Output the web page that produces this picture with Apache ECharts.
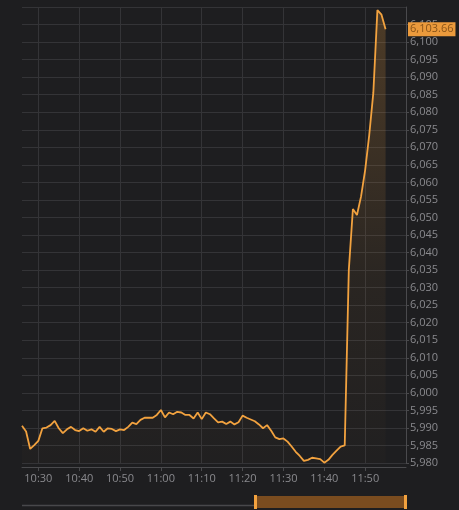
<!DOCTYPE html>
<html>
<head>
<meta charset="utf-8">
<script src="https://cdn.jsdelivr.net/npm/echarts@6/dist/echarts.min.js"></script>
<style>
html,body{margin:0;padding:0;background:#1e1e20;}
#chart{width:459px;height:510px;}
</style>
</head>
<body>
<div id="chart"></div>
<script>
const timeLabels = [
  '10:26','10:27','10:28','10:29','10:30','10:31','10:32','10:33','10:34','10:35','10:36','10:37','10:38','10:39',
  '10:40','10:41','10:42','10:43','10:44','10:45','10:46','10:47','10:48','10:49',
  '10:50','10:51','10:52','10:53','10:54','10:55','10:56','10:57','10:58','10:59',
  '11:00','11:01','11:02','11:03','11:04','11:05','11:06','11:07','11:08','11:09',
  '11:10','11:11','11:12','11:13','11:14','11:15','11:16','11:17','11:18','11:19',
  '11:20','11:21','11:22','11:23','11:24','11:25','11:26','11:27','11:28','11:29',
  '11:30','11:31','11:32','11:33','11:34','11:35','11:36','11:37','11:38','11:39',
  '11:40','11:41','11:42','11:43','11:44','11:45','11:46','11:47','11:48','11:49',
  '11:50','11:51','11:52','11:53','11:54','11:55','11:56','11:57','11:58','11:59',
  '12:00'
];
const tickLabels = ['10:30','10:40','10:50','11:00','11:10','11:20','11:30','11:40','11:50'];
const priceValues = [
  5990.6, 5989.0, 5984.0, 5985.1, 5986.3, 5989.9, 5990.1, 5990.8, 5992.0, 5989.9,
  5988.5, 5989.6, 5990.3, 5989.4, 5989.1, 5989.9, 5989.2, 5989.6, 5988.9, 5990.3,
  5988.9, 5989.9, 5989.7, 5989.1, 5989.6, 5989.4, 5990.3, 5991.5, 5991.1, 5992.3,
  5992.9, 5992.9, 5992.9, 5993.7, 5995.1, 5993.0, 5994.4, 5993.9, 5994.6, 5994.4,
  5993.7, 5993.7, 5992.7, 5994.4, 5992.5, 5994.4, 5993.9, 5992.7, 5991.6, 5991.8,
  5991.1, 5991.8, 5991.0, 5991.6, 5993.5, 5992.9, 5992.4, 5991.9, 5991.0, 5989.9,
  5990.8, 5989.2, 5987.3, 5986.8, 5987.0, 5986.1, 5984.7, 5983.2, 5982.0, 5980.6,
  5980.9, 5981.5, 5981.3, 5981.1, 5980.1, 5980.9, 5982.3, 5983.5, 5984.7, 5985.0,
  6035.0, 6052.4, 6050.7, 6056.0, 6063.5, 6073.5, 6085.5, 6109.1, 6107.8, 6103.66
];
const lastPrice = 6103.66;
const yMin = 5980, yMax = 6110, yStep = 5;

const ORANGE = '#f2a23f';
const GRID_C = '#343437';
const AXIS_C = '#4a4a4d';
const TEXT_C = '#8a8a8e';
const FONT = 'Open Sans';

const chart = echarts.init(document.getElementById('chart'), null, {renderer: 'canvas'});
chart.setOption({
  backgroundColor: '#1e1e20',
  animation: false,
  grid: {left: 22, right: 53, top: 7, bottom: 47, containLabel: false},
  xAxis: {
    type: 'category',
    data: timeLabels,
    boundaryGap: false,
    offset: 4,
    axisLine: {show: true, lineStyle: {color: AXIS_C, width: 1}},
    axisTick: {show: true, length: 4, lineStyle: {color: AXIS_C},
      interval: (i, v) => tickLabels.indexOf(v) >= 0},
    axisLabel: {color: TEXT_C, fontSize: 11, fontFamily: FONT, margin: 6,
      interval: (i, v) => tickLabels.indexOf(v) >= 0},
    splitLine: {show: true, lineStyle: {color: GRID_C, width: 1},
      interval: (i, v) => tickLabels.indexOf(v) >= 0}
  },
  yAxis: {
    type: 'value',
    position: 'right',
    min: yMin, max: yMax, interval: yStep,
    axisLine: {show: true, lineStyle: {color: AXIS_C, width: 1}},
    axisTick: {show: true, length: 3, lineStyle: {color: AXIS_C}},
    axisLabel: {color: TEXT_C, fontSize: 11, fontFamily: FONT, margin: 4,
      showMaxLabel: false,
      formatter: v => v.toLocaleString('en-US')},
    splitLine: {show: true, lineStyle: {color: GRID_C, width: 1},
      interval: (i, v) => Math.round(v) % 10 === 0}
  },
  series: [{
    type: 'line',
    data: priceValues,
    symbol: 'none',
    smooth: false,
    lineStyle: {color: ORANGE, width: 1.8},
    areaStyle: {
      color: new echarts.graphic.LinearGradient(0, 0, 0, 1, [
        {offset: 0, color: 'rgba(242,162,63,0.32)'},
        {offset: 0.6, color: 'rgba(242,162,63,0.08)'},
        {offset: 1, color: 'rgba(242,162,63,0.02)'}
      ])
    },
    markLine: {
      silent: true,
      symbol: ['none', 'none'],
      lineStyle: {color: 'rgba(0,0,0,0)', width: 1, type: 'solid'},
      emphasis: {disabled: true},
      data: [{yAxis: lastPrice}],
      label: {
        show: true,
        position: 'end',
        distance: 2,
        formatter: () => lastPrice.toLocaleString('en-US', {minimumFractionDigits: 2}),
        backgroundColor: '#eb9a3c',
        color: '#8a5418',
        fontSize: 11,
        fontFamily: FONT,
        padding: [2, 2, 1, 2]
      }
    }
  }],
  graphic: [
    {type: 'line', silent: true, shape: {x1: 22, y1: 505.5, x2: 255, y2: 505.5},
      style: {stroke: '#48484b', lineWidth: 1.5}},
    {type: 'rect', silent: true, shape: {x: 256, y: 496, width: 149, height: 12},
      style: {fill: '#7a4c1f'}},
    {type: 'rect', silent: true, shape: {x: 254, y: 495, width: 3, height: 14},
      style: {fill: ORANGE}},
    {type: 'rect', silent: true, shape: {x: 404, y: 495, width: 3, height: 14},
      style: {fill: ORANGE}}
  ]
});
</script>
</body>
</html>
